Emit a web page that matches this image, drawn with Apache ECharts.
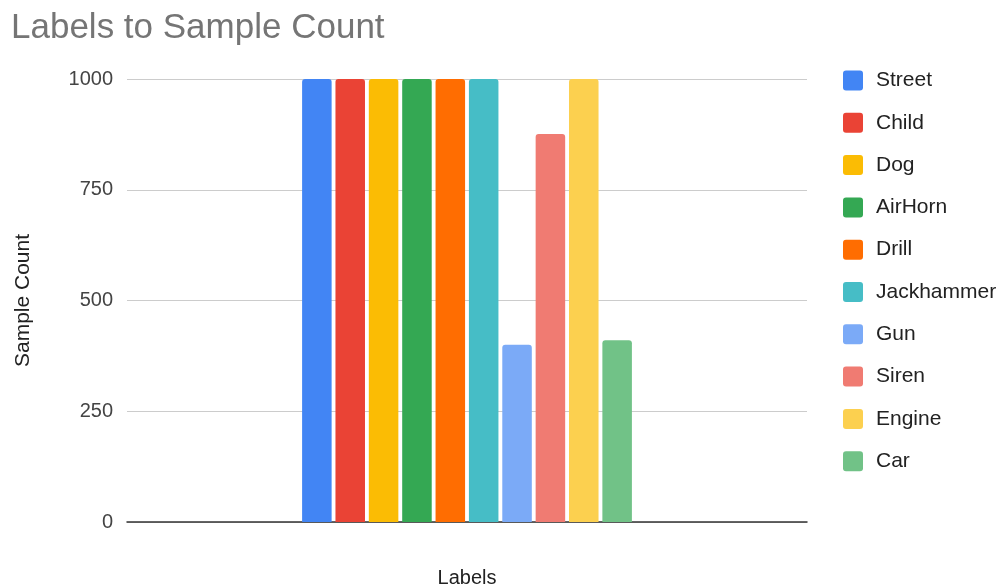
<!DOCTYPE html>
<html>
<head>
<meta charset="utf-8">
<script src="https://cdn.jsdelivr.net/npm/echarts@6/dist/echarts.min.js"></script>
<style>
  html, body { margin: 0; padding: 0; background: #fff; }
  #chart { width: 1004px; height: 588px; }
</style>
</head>
<body>
<div id="chart"></div>
<script>
// One category on the x axis, one bar per sound label
const categories = ['Labels'];
const seriesNames = ['Street', 'Child', 'Dog', 'AirHorn', 'Drill', 'Jackhammer', 'Gun', 'Siren', 'Engine', 'Car'];
const sampleCounts = [1000, 1000, 1000, 1000, 1000, 1000, 400, 876, 1000, 410];
const seriesColors = ['#4285F4', '#EA4335', '#FBBC04', '#34A853', '#FF6D01', '#46BDC6', '#7BAAF7', '#F07B72', '#FCD04F', '#71C287'];
const yTicks = [0, 250, 500, 750, 1000];

const FONT = 'Arial';
const chart = echarts.init(document.getElementById('chart'), null, { renderer: 'canvas' });

const series = seriesNames.map((name, i) => ({
  name: name,
  type: 'bar',
  data: [sampleCounts[i]],
  barGap: '13%',
  barCategoryGap: '51.5%',
  itemStyle: { color: seriesColors[i], borderRadius: [3, 3, 0, 0] }
}));

chart.setOption({
  animation: false,
  backgroundColor: '#fff',
  title: {
    text: 'Labels to Sample Count',
    left: 6,
    top: 6,
    textStyle: { fontFamily: FONT, fontSize: 35, fontWeight: 'normal', color: '#757575' }
  },
  legend: {
    orient: 'vertical',
    left: 838,
    top: 65,
    icon: 'path://M3,0 L17,0 Q20,0 20,3 L20,17 Q20,20 17,20 L3,20 Q0,20 0,17 L0,3 Q0,0 3,0 Z',
    itemWidth: 20,
    itemHeight: 20,
    itemGap: 21.3,
    data: seriesNames,
    textStyle: { fontFamily: FONT, fontSize: 21, color: '#222', padding: [0, 0, 0, 8] }
  },
  grid: { left: 127, right: 197, top: 79, bottom: 66, containLabel: false, outerBoundsMode: 'none' },
  xAxis: {
    type: 'category',
    data: categories,
    name: 'Labels',
    nameLocation: 'middle',
    nameGap: 46,
    nameTextStyle: { fontFamily: FONT, fontSize: 20, color: '#222' },
    axisLabel: { show: false },
    axisTick: { show: false },
    axisLine: { lineStyle: { color: '#333', width: 1.5 } }
  },
  yAxis: {
    type: 'value',
    min: yTicks[0],
    max: yTicks[yTicks.length - 1],
    interval: yTicks[1] - yTicks[0],
    name: 'Sample Count',
    nameLocation: 'middle',
    nameGap: 93,
    nameRotate: 90,
    nameTextStyle: { fontFamily: FONT, fontSize: 21, color: '#222' },
    axisLabel: { fontFamily: FONT, fontSize: 20, color: '#444', margin: 14, formatter: v => String(v) },
    axisTick: { show: false },
    axisLine: { show: false },
    splitLine: { lineStyle: { color: '#ccc', width: 1 } }
  },
  series: series
});
</script>
</body>
</html>
